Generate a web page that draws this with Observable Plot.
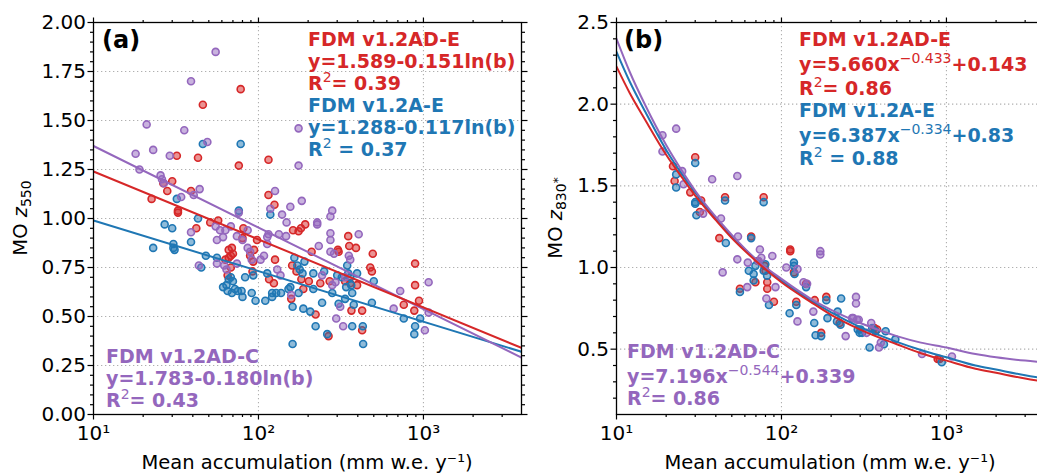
<!DOCTYPE html>
<html><head><meta charset="utf-8">
<script src="https://cdn.jsdelivr.net/npm/d3@7"></script>
<script src="https://cdn.jsdelivr.net/npm/@observablehq/plot@0.6"></script>
<style>
html,body{margin:0;padding:0;background:#fff;overflow:hidden;}
#wrap{position:relative;width:1037px;height:473px;overflow:hidden;background:#fff;}
#wrap svg{position:absolute;top:0;}
</style></head><body><div id="wrap"></div>
<script>
// ---------- colours ----------
const RED = "#d62728", BLUE = "#1f77b4", PURPLE = "#9467bd";

// ---------- axes ----------
const xMajor = [10, 100, 1000];
const xTickLabels = ["10\u00b9", "10\u00b2", "10\u00b3"];
const xMinor = [20,30,40,50,60,70,80,90,200,300,400,500,600,700,800,900,2000,3000];
const xDomain = [10, 3930];
const xLabel = "Mean accumulation (mm w.e. y\u207b\u00b9)";

const yMajorA = [0, 0.25, 0.5, 0.75, 1.0, 1.25, 1.5, 1.75, 2.0];
const yTickLabelsA = ["0.00","0.25","0.50","0.75","1.00","1.25","1.50","1.75","2.00"];
const yMinorA = [0.05,0.1,0.15,0.2,0.3,0.35,0.4,0.45,0.55,0.6,0.65,0.7,0.8,0.85,0.9,0.95,1.05,1.1,1.15,1.2,1.3,1.35,1.4,1.45,1.55,1.6,1.65,1.7,1.8,1.85,1.9,1.95];
const yDomainA = [0, 2];

const yMajorB = [0.5, 1.0, 1.5, 2.0, 2.5];
const yTickLabelsB = ["0.5","1.0","1.5","2.0","2.5"];
const yMinorB = [0.2,0.3,0.4,0.6,0.7,0.8,0.9,1.1,1.2,1.3,1.4,1.6,1.7,1.8,1.9,2.1,2.2,2.3,2.4];
const yDomainB = [0.1, 2.5];

// ---------- panel (a) scatter ----------
const aRedX = [78,46,32,43,76,115,26.5,30,28,39,22.5,115,125,32.5,32.5,42,51,57,81,80,162,175,181,192,350,355,390,66,69,68,70,66,63,68,65,92,93,98,94,89,126,116,124,158,187,182,202,210,222,237,270,266,306,303,335,360,366,425,425,396,476,487,493,760,890,890,940,880,160,170];
const aRedY = [1.66,1.58,1.32,1.31,1.27,1.30,1.18,1.19,1.14,1.14,1.10,1.12,1.07,1.04,1.03,0.95,0.98,0.99,0.95,0.90,0.94,0.935,0.95,0.97,0.91,0.86,0.85,0.84,0.85,0.81,0.82,0.80,0.79,0.75,0.71,0.73,0.78,0.89,0.84,0.81,0.79,0.69,0.67,0.59,0.64,0.69,0.68,0.83,0.51,0.67,0.68,0.40,0.83,0.84,0.68,0.67,0.53,0.43,0.53,0.66,0.75,0.73,0.82,0.56,0.77,0.66,0.58,0.53,0.76,0.73];

const aBlueX = [46,78,32,118,76,43,27,30,23,30.5,30.5,31,39,45,48,56,61,64,66,68,70,65,69,72,75,79,80,96,91,83,93,113,121,121,128,137,110,152,156,175,161,161,165,172,178,185,190,187,206,215,215,222,243,250,261,280,306,300,320,335,345,350,360,365,370,378,340,370,429,431,396,487,500,760,955,890,880];
const aBlueY = [1.38,1.38,1.10,1.02,1.04,1.00,0.97,0.95,0.85,0.87,0.85,0.84,0.88,0.75,0.81,0.80,0.65,0.66,0.69,0.70,0.68,0.63,0.62,0.64,0.63,0.63,0.60,0.58,0.62,0.70,0.71,0.72,0.62,0.60,0.62,0.62,0.58,0.64,0.65,0.62,0.55,0.36,0.80,0.76,0.74,0.72,0.78,0.54,0.525,0.64,0.72,0.45,0.57,0.73,0.41,0.62,0.565,0.71,0.70,0.59,0.76,0.72,0.70,0.66,0.62,0.56,0.65,0.45,0.45,0.36,0.72,0.57,0.68,0.49,0.49,0.45,0.41];

const aPurpleX = [55,39,21,35.5,49,175,18,23,29,175,19,25.5,26,26.7,44,40.5,34,126,183,118,156,139,76,39,55,58.5,63,68,61,56,74,80,86,86,89,91,113,113,108,103,148,227,227,280,273,273,273,405,232,115,133,147,273,287,353,360,43.5,56,64,74,62,130,136,158,280,293,335,243,313,296,326,660,723,1075,1020,1075];
const aPurpleY = [1.85,1.70,1.48,1.45,1.39,1.46,1.33,1.35,1.32,1.27,1.25,1.22,1.20,1.18,1.15,1.12,1.11,1.14,1.09,1.05,1.06,1.02,1.03,0.93,0.96,0.94,0.94,0.96,0.905,0.89,0.91,0.89,0.94,0.85,0.83,0.79,0.905,0.87,0.81,0.79,0.98,0.98,0.97,1.04,1.01,0.925,0.89,0.92,0.86,0.92,0.92,0.91,0.83,0.82,0.81,0.79,0.76,0.77,0.74,0.77,0.76,0.74,0.71,0.61,0.66,0.675,0.70,0.71,0.55,0.49,0.45,0.54,0.63,0.675,0.43,0.52];

// ---------- panel (a) fit lines (read at the frame edges) ----------
const aFitX = [10, 3930];
const aFitRed = [1.24, 0.34];
const aFitBlue = [0.99, 0.32];
const aFitPurple = [1.37, 0.29];

// ---------- panel (b) scatter ----------
const bRedX = [30,22,22.5,28,32.6,32,45.5,78,42,65.5,113,113,72,79,80,69.5,82,82,56,90,119,141,123,159,187,174,225,366,380,885,910];
const bRedY = [1.675,1.62,1.53,1.46,1.41,1.34,1.43,1.43,1.18,1.19,1.11,1.10,1.04,1.01,0.98,0.91,0.91,0.87,0.87,0.79,0.97,0.90,0.79,0.80,0.82,0.60,0.66,0.63,0.62,0.44,0.44];

const bBlueX = [30,23,23,30,30,30.5,45.5,78,46,65.5,63.4,67.8,69.5,79.8,81.8,78,67.8,56,84,119,119,120,141,123,112,187,158,161,174,190,230,219,217,228,290,298,302,308,355,372,428,342,418,490,937];
const bBlueY = [1.64,1.57,1.49,1.40,1.39,1.32,1.41,1.40,1.15,1.18,0.98,0.96,1.01,1.02,0.95,0.98,0.92,0.85,0.77,1.03,1.01,0.96,0.88,0.77,0.72,0.80,0.66,0.585,0.58,0.69,0.81,0.73,0.67,0.65,0.62,0.60,0.62,0.60,0.63,0.61,0.61,0.51,0.53,0.56,0.42];

const bPurpleX = [23,19,19,25,25.5,33.5,38,54,43,54.5,74,172,172,54,88,44,62.5,72.7,75.5,92,62,81,107,125,136,143,125,156,245,283,283,272,287,268,294,328,350,400,390,711,1080];
const bPurpleY = [1.85,1.81,1.71,1.59,1.51,1.33,1.54,1.56,1.30,1.19,1.11,1.10,1.08,1.05,1.07,0.97,1.03,1.04,1.06,0.88,0.88,0.81,1.00,0.99,0.91,0.90,0.67,0.73,0.58,0.82,0.78,0.69,0.68,0.69,0.68,0.60,0.66,0.54,0.51,0.47,0.455];

// ---------- panel (b) fit curves ----------
const bFitX = [10,12,15,20,25,30,40,50,70,100,150,200,300,500,700,1000,1500,2000,3000,3930];
const bFitRed = [2.23,2.07,1.90,1.69,1.55,1.44,1.29,1.18,1.04,0.91,0.79,0.71,0.62,0.53,0.475,0.43,0.38,0.355,0.32,0.30];
const bFitBlue = [2.32,2.14,1.95,1.72,1.57,1.46,1.30,1.19,1.05,0.92,0.80,0.725,0.635,0.545,0.495,0.45,0.40,0.375,0.34,0.32];
const bFitPurple = [2.40,2.20,1.99,1.75,1.59,1.47,1.31,1.20,1.05,0.93,0.81,0.74,0.66,0.58,0.54,0.51,0.47,0.45,0.43,0.42];

// ---------- helpers ----------
const pts = (xs, ys) => xs.map((x, i) => ({x, y: ys[i]}));
const FONT = "DejaVu Sans";

function buildPanel(cfg) {
  const xMap = new Map(xMajor.map((v, i) => [v, xTickLabels[i]]));
  const yMap = new Map(cfg.yMajor.map((v, i) => [v, cfg.yLabels[i]]));
  const gridStyle = {stroke: "#b0b0b0", strokeOpacity: 1, strokeWidth: 1.1, strokeDasharray: "1.3,2.7"};
  const dotStyle = c => ({x: "x", y: "y", r: 3.5, fill: c, fillOpacity: 0.5, stroke: c, strokeWidth: 1.6});
  const marks = [
    Plot.gridX({ticks: [100, 1000], ...gridStyle}),
    Plot.gridY({ticks: cfg.yMajor, ...gridStyle}),
  ];
  for (const s of cfg.series) marks.push(Plot.dot(s.data, dotStyle(s.color)));
  for (const f of cfg.fits) marks.push(Plot.line(f.data, {x: "x", y: "y", stroke: f.color, strokeWidth: 2, curve: f.curve || "linear", clip: true}));
  const tick = {strokeWidth: 1.2, label: null};
  marks.push(
    Plot.frame({stroke: "black", strokeWidth: 1.3}),
    Plot.axisX({ticks: xMajor, anchor: "bottom", tickSize: 5.5, tickPadding: 6, tickFormat: d => xMap.get(d), ...tick}),
    Plot.axisX({ticks: xMinor, anchor: "bottom", tickSize: 3, tickFormat: () => "", ...tick}),
    Plot.axisX({ticks: xMajor, anchor: "top", tickSize: 5.5, tickFormat: () => "", ...tick}),
    Plot.axisX({ticks: xMinor, anchor: "top", tickSize: 3, tickFormat: () => "", ...tick}),
    Plot.axisY({ticks: cfg.yMajor, anchor: "left", tickSize: 5.5, tickPadding: 2, tickFormat: d => yMap.get(d), ...tick}),
    Plot.axisY({ticks: cfg.yMinor, anchor: "left", tickSize: 3, tickFormat: () => "", ...tick}),
    Plot.axisY({ticks: cfg.yMajor, anchor: "right", tickSize: 5.5, tickFormat: () => "", ...tick}),
    Plot.axisY({ticks: cfg.yMinor, anchor: "right", tickSize: 3, tickFormat: () => "", ...tick})
  );
  const svg = Plot.plot({
    width: cfg.width, height: 473,
    marginLeft: cfg.marginLeft, marginRight: cfg.marginRight, marginTop: 22, marginBottom: 59,
    x: {type: "log", domain: xDomain},
    y: {domain: cfg.yDomain},
    style: {fontFamily: FONT, fontSize: "20px", color: "black", background: "none", maxWidth: "none", overflow: "visible"},
    marks
  });
  svg.style.left = cfg.left + "px";
  return svg;
}

// parts: [text, kind] with kind n | sup | sub | it | subsup
function addText(svg, x, y, color, parts, opt = {}) {
  const size = opt.size || 19;
  const t = d3.select(svg).append("text")
    .attr("x", x).attr("y", y).attr("fill", color)
    .attr("font-family", FONT).attr("font-size", size)
    .attr("font-weight", opt.weight || "bold")
    .attr("text-anchor", opt.anchor || "start");
  if (opt.transform) t.attr("transform", opt.transform).attr("x", 0).attr("y", 0);
  let off = 0;
  for (const [txt, kind] of parts) {
    const s = t.append("tspan").text(txt);
    let target = 0;
    if (kind === "sup") { target = -8; s.attr("font-size", 14).attr("font-weight", "normal"); }
    else if (kind === "sub") { target = 4; s.attr("font-size", 14); }
    else if (kind === "subsup") { target = 0; s.attr("font-size", 12); }
    else if (kind === "it") { s.attr("font-style", "italic"); }
    if (target !== off) { s.attr("dy", target - off); off = target; }
  }
  return t;
}

const wrap = document.getElementById("wrap");

// ---------- panel (a) ----------
const svgA = buildPanel({
  left: 0, width: 540, marginLeft: 93, marginRight: 19,
  yDomain: yDomainA, yMajor: yMajorA, yLabels: yTickLabelsA, yMinor: yMinorA,
  series: [
    {data: pts(aRedX, aRedY), color: RED},
    {data: pts(aBlueX, aBlueY), color: BLUE},
    {data: pts(aPurpleX, aPurpleY), color: PURPLE}
  ],
  fits: [
    {data: pts(aFitX, aFitBlue), color: BLUE},
    {data: pts(aFitX, aFitPurple), color: PURPLE},
    {data: pts(aFitX, aFitRed), color: RED}
  ]
});
wrap.appendChild(svgA);
addText(svgA, 102, 48, "black", [["(a)", "n"]], {size: 24});
addText(svgA, 308, 46, RED, [["FDM v1.2AD-E", "n"]]);
addText(svgA, 308, 68, RED, [["y=1.589-0.151ln(b)", "n"]]);
addText(svgA, 308, 90, RED, [["R", "n"], ["2", "sup"], ["= 0.39", "n"]]);
addText(svgA, 308, 112, BLUE, [["FDM v1.2A-E", "n"]]);
addText(svgA, 308, 134, BLUE, [["y=1.288-0.117ln(b)", "n"]]);
addText(svgA, 308, 156, BLUE, [["R", "n"], ["2", "sup"], [" = 0.37", "n"]]);
addText(svgA, 106, 363, PURPLE, [["FDM v1.2AD-C", "n"]]);
addText(svgA, 106, 385, PURPLE, [["y=1.783-0.180ln(b)", "n"]]);
addText(svgA, 106, 407, PURPLE, [["R", "n"], ["2", "sup"], ["= 0.43", "n"]]);
addText(svgA, 0, 0, "black", [["MO ", "n"], ["z", "it"], ["550", "sub"]], {size: 19.5, weight: "normal", anchor: "middle", transform: "translate(27,218) rotate(-90)"});
addText(svgA, 307, 469, "black", [[xLabel, "n"]], {size: 19.5, weight: "normal", anchor: "middle"});

// ---------- panel (b) ----------
const LB = 530;
const svgB = buildPanel({
  left: LB, width: 530, marginLeft: 86, marginRight: 16,
  yDomain: yDomainB, yMajor: yMajorB, yLabels: yTickLabelsB, yMinor: yMinorB,
  series: [
    {data: pts(bRedX, bRedY), color: RED},
    {data: pts(bBlueX, bBlueY), color: BLUE},
    {data: pts(bPurpleX, bPurpleY), color: PURPLE}
  ],
  fits: [
    {data: pts(bFitX, bFitBlue), color: BLUE, curve: "monotone-x"},
    {data: pts(bFitX, bFitPurple), color: PURPLE, curve: "monotone-x"},
    {data: pts(bFitX, bFitRed), color: RED, curve: "monotone-x"}
  ]
});
wrap.appendChild(svgB);
addText(svgB, 624 - LB, 48, "black", [["(b)", "n"]], {size: 24});
addText(svgB, 799 - LB, 46, RED, [["FDM v1.2AD-E", "n"]]);
addText(svgB, 799 - LB, 71, RED, [["y=5.660x", "n"], ["\u22120.433", "sup"], ["+0.143", "n"]]);
addText(svgB, 799 - LB, 95, RED, [["R", "n"], ["2", "sup"], ["= 0.86", "n"]]);
addText(svgB, 799 - LB, 117, BLUE, [["FDM v1.2A-E", "n"]]);
addText(svgB, 799 - LB, 142, BLUE, [["y=6.387x", "n"], ["\u22120.334", "sup"], ["+0.83", "n"]]);
addText(svgB, 799 - LB, 165, BLUE, [["R", "n"], ["2", "sup"], [" = 0.88", "n"]]);
addText(svgB, 627 - LB, 358, PURPLE, [["FDM v1.2AD-C", "n"]]);
addText(svgB, 627 - LB, 383, PURPLE, [["y=7.196x", "n"], ["\u22120.544", "sup"], ["+0.339", "n"]]);
addText(svgB, 627 - LB, 405, PURPLE, [["R", "n"], ["2", "sup"], ["= 0.86", "n"]]);
addText(svgB, 0, 0, "black", [["MO ", "n"], ["z", "it"], ["830", "sub"], ["*", "subsup"]], {size: 19.5, weight: "normal", anchor: "middle", transform: `translate(${562 - LB},218) rotate(-90)`});
addText(svgB, 830 - LB, 469, "black", [[xLabel, "n"]], {size: 19.5, weight: "normal", anchor: "middle"});
</script>
</body></html>
